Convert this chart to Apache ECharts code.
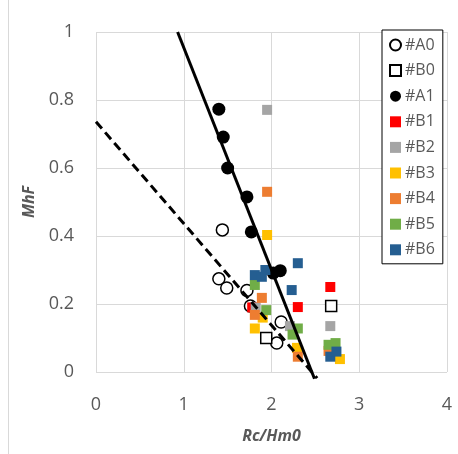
<!DOCTYPE html>
<html>
<head>
<meta charset="utf-8">
<script src="https://cdn.jsdelivr.net/npm/echarts@6/dist/echarts.min.js"></script>
<style>
  html, body { margin: 0; padding: 0; background: #fff; }
  #chart { width: 458px; height: 454px; }
</style>
</head>
<body>
<div id="chart"></div>
<script>
// points, [Rc/Hm0, MhF]
var a0 = [[1.44, 0.418], [1.40, 0.274], [1.49, 0.247], [1.72, 0.240], [1.76, 0.194], [2.11, 0.147], [2.06, 0.085]]
var b0 = [[1.94, 0.100], [2.68, 0.194]]
var a1 = [[1.40, 0.773], [1.45, 0.691], [1.50, 0.600], [1.72, 0.515], [1.77, 0.412], [2.02, 0.291], [2.10, 0.298]]
var b1 = [[2.67, 0.250], [2.30, 0.191], [1.78, 0.190]]
var b2 = [[1.95, 0.771], [2.67, 0.135], [2.21, 0.135], [1.82, 0.190]]
var b3 = [[1.95, 0.403], [1.81, 0.128], [2.29, 0.071], [2.78, 0.038], [1.90, 0.160]]
var b4 = [[1.95, 0.530], [1.89, 0.218], [1.81, 0.168], [2.30, 0.045], [2.65, 0.062]]
var b5 = [[1.81, 0.256], [1.94, 0.182], [2.30, 0.128], [2.24, 0.110], [2.65, 0.080], [2.73, 0.085]]
var b6 = [[1.81, 0.285], [1.89, 0.280], [1.93, 0.300], [2.30, 0.320], [2.23, 0.241], [2.67, 0.045], [2.74, 0.060]]

// the two fitted lines, end points
var solidLine = [[0.93, 1.0], [2.49, -0.02]]
var dashLine = [[0, 0.736], [2.52, -0.018]]

var names = ['#A0', '#B0', '#A1', '#B1', '#B2', '#B3', '#B4', '#B5', '#B6']

var chart = echarts.init(document.getElementById('chart'))

function pts(name, data, color, symbol, size) {
  return {
    name: name,
    type: 'scatter',
    data: data,
    symbol: symbol,
    symbolSize: size,
    itemStyle: { color: color, opacity: 1 },
    emphasis: { disabled: true }
  }
}

function openPts(name, data, symbol, size) {
  return {
    name: name,
    type: 'scatter',
    data: data,
    symbol: symbol,
    symbolSize: size,
    itemStyle: { color: '#fff', borderColor: '#000', borderWidth: 1.5, opacity: 1 },
    emphasis: { disabled: true }
  }
}

chart.setOption({
  animation: false,
  backgroundColor: '#fff',
  grid: { left: 96, right: 11, top: 32, bottom: 82 },
  graphic: [{
    type: 'line',
    shape: { x1: 8.5, y1: 0, x2: 8.5, y2: 454 },
    style: { stroke: '#d9d9d9', lineWidth: 1 }
  }],
  legend: {
    data: names,
    orient: 'vertical',
    left: 382,
    top: 30,
    width: 61,
    padding: [7, 8, 6, 7],
    itemGap: 9.6,
    itemWidth: 11,
    itemHeight: 11,
    borderColor: '#000',
    borderWidth: 1,
    backgroundColor: '#fff',
    textStyle: { color: '#595959', fontSize: 16, fontFamily: 'Open Sans', padding: [0, 0, 0, -1] }
  },
  xAxis: {
    type: 'value',
    min: 0,
    max: 4,
    interval: 1,
    name: 'Rc/Hm0',
    nameLocation: 'middle',
    nameGap: 56,
    nameTextStyle: { color: '#595959', fontSize: 16, fontWeight: 'bold', fontStyle: 'italic', fontFamily: 'Open Sans' },
    axisLine: { show: false },
    axisTick: { show: false },
    axisLabel: { color: '#595959', fontSize: 18, fontFamily: 'Open Sans', margin: 24 },
    splitLine: { show: true, lineStyle: { color: '#d9d9d9', width: 1 } }
  },
  yAxis: {
    type: 'value',
    min: 0,
    max: 1,
    interval: 0.2,
    name: 'MhF',
    nameLocation: 'middle',
    nameGap: 58,
    nameTextStyle: { color: '#595959', fontSize: 16, fontWeight: 'bold', fontStyle: 'italic', fontFamily: 'Open Sans' },
    axisLine: { show: false },
    axisTick: { show: false },
    axisLabel: { color: '#595959', fontSize: 18, fontFamily: 'Open Sans', margin: 22 },
    splitLine: { show: true, lineStyle: { color: '#d9d9d9', width: 1 } }
  },
  series: [
    openPts('#A0', a0, 'circle', 12),
    openPts('#B0', b0, 'rect', 11),
    pts('#A1', a1, '#000', 'circle', 13),
    pts('#B1', b1, '#ff0000', 'rect', 10),
    pts('#B2', b2, '#a5a5a5', 'rect', 10),
    pts('#B3', b3, '#ffc000', 'rect', 10),
    pts('#B4', b4, '#ed7d31', 'rect', 10),
    pts('#B5', b5, '#70ad47', 'rect', 10),
    pts('#B6', b6, '#255e91', 'rect', 10),
    {
      type: 'line',
      data: solidLine,
      symbol: 'none',
      clip: false,
      lineStyle: { color: '#000', width: 3 },
      emphasis: { disabled: true }
    },
    {
      type: 'line',
      data: dashLine,
      symbol: 'none',
      clip: false,
      lineStyle: { color: '#000', width: 3, type: [9, 5] },
      emphasis: { disabled: true }
    }
  ]
})
</script>
</body>
</html>
